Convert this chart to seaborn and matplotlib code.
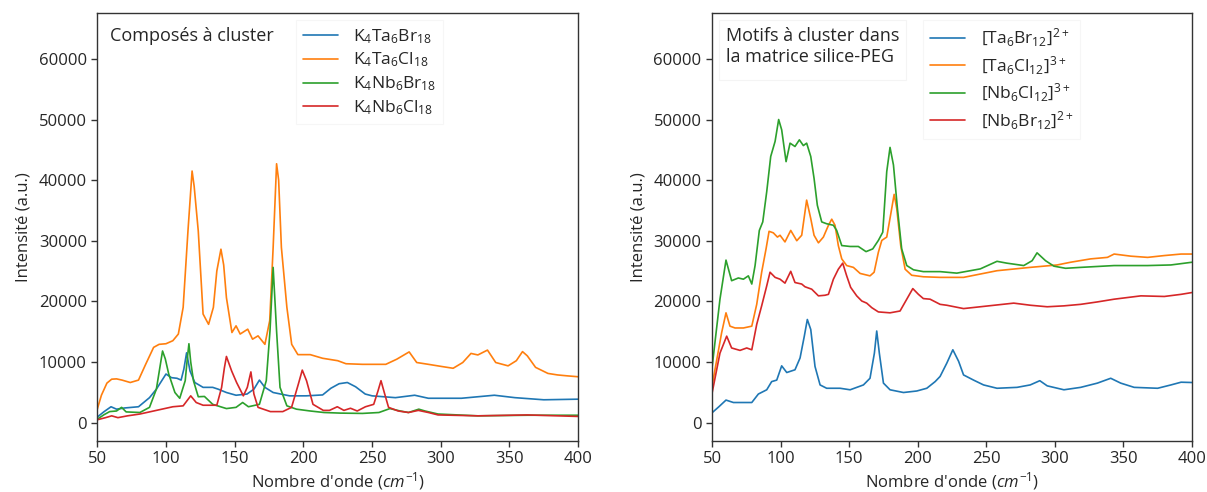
import numpy as np
import pandas as pd
import matplotlib
matplotlib.use("Agg")
import matplotlib.pyplot as plt
import seaborn as sns

# ---------------- data: left panel (Composés à cluster) ----------------
left_labels = ["K$_4$Ta$_6$Br$_{18}$", "K$_4$Ta$_6$Cl$_{18}$",
               "K$_4$Nb$_6$Br$_{18}$", "K$_4$Nb$_6$Cl$_{18}$"]

x_k4ta6br18 = [50, 55, 60, 64, 70, 80, 88, 93, 100, 104, 108, 111, 113, 115, 117.5, 121, 127, 134, 138, 144,
               151, 159, 164, 168, 172, 178, 190, 202, 214, 220, 226, 232, 238, 245, 250, 267, 281, 291, 315, 339,
               354, 375, 400]
y_k4ta6br18 = [900, 1800, 2600, 2200, 2400, 2600, 4100, 5500, 8000, 7400, 7300, 7000, 8800, 11500, 8500, 6600, 5800, 5800, 5500, 4950,
               4500, 4700, 5500, 7000, 5800, 4950, 4400, 4400, 4550, 5650, 6400, 6600, 5900, 4700, 4400, 4100, 4500, 4000, 4000, 4500,
               4100, 3750, 3850]

x_k4ta6cl18 = [50, 53, 57, 60.5, 64, 68, 74, 80, 85, 91, 95, 100, 105, 109, 112.5, 116, 119, 120.5, 123.5, 127,
               131, 134.5, 137, 140, 142, 144, 148, 151, 154, 159.5, 163, 167, 172, 175.5, 178, 180.5, 182, 184, 188, 191.5,
               196, 205, 214, 225, 231, 243, 260, 268, 277, 282.5, 291, 300.5, 309, 316, 322, 327, 334, 340, 349, 355,
               359.5, 363, 369, 378, 385, 392, 400]
y_k4ta6cl18 = [2200, 4500, 6500, 7150, 7200, 7000, 6600, 7000, 9500, 12400, 12900, 13000, 13500, 14600, 19000, 31600, 41500, 39000, 31600, 17900,
               16200, 19000, 25000, 28600, 26000, 20600, 14850, 15950, 14600, 15400, 13750, 14300, 12900, 16800, 28900, 42700, 40000, 28900, 19000, 12900,
               11200, 11200, 10600, 10200, 9700, 9600, 9600, 10450, 11650, 9900, 9600, 9250, 8950, 9900, 11400, 11150, 11950, 9900, 9350, 10200,
               11700, 11000, 9100, 8100, 7850, 7700, 7550]

x_k4nb6br18 = [50, 55, 59, 64, 67.7, 71, 81, 88, 93, 95.5, 97.5, 99.5, 102, 106.5, 110, 114, 115.5, 116.7, 118, 120,
               123.5, 128, 134, 144, 151, 155.8, 160, 168, 173, 175.7, 178, 180.5, 183, 188, 195, 205, 215, 227, 243, 255,
               263, 270.5, 276.5, 284, 288.5, 298, 327, 363, 400]
y_k4nb6br18 = [550, 1300, 1800, 1900, 2500, 1750, 1650, 2500, 5500, 9000, 11800, 10500, 8000, 4950, 4000, 6900, 10500, 13000, 10000, 6900,
               4250, 4300, 3000, 2300, 2500, 3300, 2600, 3000, 6900, 15100, 25600, 15100, 5800, 2750, 2200, 1900, 1650, 1550, 1500, 1650,
               2300, 1900, 1650, 2200, 1900, 1400, 1100, 1200, 1200]

x_k4nb6cl18 = [50, 56, 60.5, 65, 72, 81, 93, 105, 112.5, 118, 122, 127, 137, 140.5, 142.5, 144, 147.8, 151.4, 156.3, 159.2,
               161.8, 164, 167, 176, 185, 191.4, 196.3, 199.2, 202.3, 207, 214.5, 219, 224.7, 229.5, 234.3, 239.2, 245.2, 251.2, 254.3, 256.5,
               259.2, 262, 269, 276.5, 283.7, 291, 298, 327, 363, 400]
y_k4nb6cl18 = [450, 800, 1100, 800, 1100, 1400, 2000, 2600, 2750, 4400, 3300, 2850, 2850, 5800, 9000, 10900, 8500, 6600, 4400, 5800,
               8350, 4700, 2500, 1800, 1800, 2500, 6300, 8650, 6900, 3000, 2000, 2000, 2600, 2000, 2350, 1900, 2600, 3000, 5200, 6900,
               4700, 2500, 1900, 1650, 2000, 1650, 1250, 1100, 1250, 1000]

# ---------------- data: right panel (Motifs à cluster dans la matrice) ----------------
right_labels = ["[Ta$_6$Br$_{12}$]$^{2+}$", "[Ta$_6$Cl$_{12}$]$^{3+}$",
                "[Nb$_6$Cl$_{12}$]$^{3+}$", "[Nb$_6$Br$_{12}$]$^{2+}$"]

x_ta6br12 = [50, 55, 60.2, 65.6, 79, 83.8, 89.9, 93.5, 97.2, 100.8, 104.5, 110.5, 114.2, 117.3, 119.5, 122, 125.1, 128.8, 133.6, 143.4,
             150.7, 160.4, 165.2, 168.4, 170.1, 172, 175, 179.8, 189.6, 199.3, 206.6, 212.7, 216.3, 221.2, 225.6, 229.8, 233.4, 240.7, 248, 257.8,
             272.4, 282, 289, 294.4, 306.6, 318.8, 331, 340.7, 348, 357.8, 374.9, 384.6, 392, 400]
y_ta6br12 = [1600, 2600, 3700, 3300, 3300, 4700, 5400, 6750, 7000, 9350, 8250, 8700, 10650, 14250, 17000, 15350, 9250, 6200, 5650, 5650,
             5400, 6200, 7300, 11450, 15100, 11450, 6500, 5400, 4950, 5200, 5650, 6750, 7600, 9800, 12000, 10100, 7850, 7000, 6200, 5650,
             5800, 6200, 6900, 6050, 5400, 5800, 6500, 7300, 6500, 5800, 5650, 6200, 6650, 6600]

x_ta6cl12 = [50, 57, 60.2, 63.1, 66.8, 72.9, 79, 82.6, 86.2, 89.4, 91.6, 94.7, 97.7, 99.6, 103.2, 107.4, 111.8, 115.4, 119, 122,
             124.4, 127.6, 131.2, 134.9, 137.3, 139.7, 142.1, 144.6, 148.2, 153.1, 158, 165.2, 168.2, 171.3, 173.8, 177.4, 180.6, 182.8, 184.7, 187.6,
             190.8, 195.6, 204.1, 216.3, 233.4, 257.8, 282, 301.7, 311.5, 326, 338.3, 343.2, 355.4, 367.6, 379.8, 392, 400]
y_ta6cl12 = [6000, 14800, 18100, 15900, 15600, 15600, 15900, 19500, 24800, 28650, 31550, 31300, 30600, 30900, 29800, 31700, 30000, 30900, 36700, 33650,
             30900, 29650, 30600, 32550, 33550, 32550, 29200, 27000, 25900, 25600, 24600, 24200, 24800, 28100, 30050, 30600, 34750, 37650, 35300, 29200,
             25300, 24300, 24050, 23950, 23950, 25050, 25600, 26000, 26450, 27000, 27250, 27800, 27450, 27250, 27550, 27800, 27800]

x_nb6cl12 = [50, 55.8, 60.2, 64.3, 69.2, 72.9, 76.5, 79, 81.4, 84.5, 87, 89.9, 92.8, 96, 98.6, 100.8, 104, 106.9, 110.5, 113.7,
             116.6, 119, 122, 124.4, 126.8, 130, 133.6, 138.5, 140.9, 144.6, 150.7, 156.7, 162.3, 167.2, 171.3, 174.5, 177.4, 179.8, 182.3, 185.2,
             188.3, 192, 196.9, 204.1, 216.3, 228.5, 245.6, 257.8, 264.9, 277.3, 283.4, 287, 293.2, 299.3, 307.8, 318.8, 343.2, 367.6, 384.6, 400]
y_nb6cl12 = [9000, 20350, 26800, 23400, 23850, 23650, 24200, 22850, 25900, 31700, 33100, 38100, 43900, 46400, 50000, 48300, 43050, 46100, 45550, 46650,
             45700, 46100, 43900, 40300, 35850, 33100, 32800, 32550, 31700, 29200, 29050, 29050, 28200, 28650, 30050, 31400, 41400, 45400, 42500, 35300,
             28650, 25900, 25200, 24900, 24900, 24650, 25350, 26600, 26300, 25900, 26700, 28000, 26700, 25800, 25450, 25600, 25900, 25900, 26000, 26450]

x_nb6br12 = [50, 55.8, 60.7, 64.3, 70.4, 75.3, 79, 82.6, 86.2, 89.9, 92.3, 96, 99.6, 103.2, 107.4, 110.5, 115.4, 117.8, 122.7, 127.6,
             132.4, 134.9, 138.5, 142.1, 145.3, 148.2, 151.1, 155.5, 159.2, 162.8, 166.5, 171.3, 179.8, 187.1, 192, 196.4, 200.5, 204.1, 209, 216.3,
             221.2, 233.4, 245.6, 270, 282.2, 294.4, 306.6, 318.8, 331, 343.2, 362.7, 379.8, 392, 400]
y_nb6br12 = [4800, 11450, 14250, 12300, 11900, 12300, 12000, 16200, 19250, 22550, 24800, 23950, 23650, 23000, 24950, 23100, 22850, 22400, 22000, 20900,
             21000, 21150, 23650, 25300, 26300, 24200, 22300, 20900, 20050, 19700, 18950, 18250, 18100, 18400, 20350, 22100, 21150, 20450, 20350, 19500,
             19350, 18800, 19100, 19700, 19350, 19100, 19250, 19500, 19900, 20350, 20900, 20800, 21150, 21450]

left_title = "Composés à cluster"
right_title = "Motifs à cluster dans\nla matrice silice-PEG"
x_label = "Nombre d'onde ($\\mathit{cm}^{-1}$)"
y_label = "Intensité (a.u.)"
x_ticks = [50, 100, 150, 200, 250, 300, 350, 400]
y_ticks = [0, 10000, 20000, 30000, 40000, 50000, 60000]

# ---------------- style ----------------
sns.set_style("ticks")
FONT = "Open Sans"
plt.rcParams["font.family"] = [FONT, "DejaVu Sans"]
plt.rcParams["mathtext.fontset"] = "custom"
plt.rcParams["mathtext.rm"] = FONT
plt.rcParams["mathtext.it"] = FONT + ":italic"
plt.rcParams["mathtext.default"] = "regular"
plt.rcParams["axes.edgecolor"] = "#333333"
plt.rcParams["axes.linewidth"] = 1.0
plt.rcParams["xtick.color"] = "#333333"
plt.rcParams["ytick.color"] = "#333333"
plt.rcParams["xtick.labelcolor"] = "#262626"
plt.rcParams["ytick.labelcolor"] = "#262626"

colors = ["#1f77b4", "#ff7f0e", "#2ca02c", "#d62728"]
FS = 12
FS_LEG = 12.5
FS_TITLE = 13

fig = plt.figure(figsize=(12.07, 4.92), dpi=100)
ax_l = fig.add_axes([0.0806, 0.1043, 0.3984, 0.8683])
ax_r = fig.add_axes([0.5899, 0.1043, 0.3977, 0.8683])


def long_df(xs, ys, labels):
    frames = []
    for x, y, lab in zip(xs, ys, labels):
        frames.append(pd.DataFrame({"x": x, "y": y, "serie": lab}))
    return pd.concat(frames, ignore_index=True)


def draw(ax, xs, ys, labels, title, leg_x, title_x, title_align, title_frame_color):
    df = long_df(xs, ys, labels)
    sns.lineplot(data=df, x="x", y="y", hue="serie", hue_order=labels,
                 palette=dict(zip(labels, colors)), estimator=None,
                 linewidth=1.2, legend=False, ax=ax)
    ax.set_xlim(50, 400)
    ax.set_ylim(-3000, 67500)
    ax.set_xticks(x_ticks)
    ax.set_yticks(y_ticks)
    ax.tick_params(labelsize=FS, length=4.5, width=1.0, direction="out", pad=3)
    ax.set_xlabel(x_label, fontsize=FS, color="#262626", labelpad=2)
    ax.set_ylabel(y_label, fontsize=FS, color="#262626", labelpad=5)
    for s in ax.spines.values():
        s.set_visible(True)

    tleg = ax.legend(handles=[], title=title, loc="upper left",
                     bbox_to_anchor=(title_x, 0.985), borderaxespad=0,
                     frameon=True, fancybox=False, title_fontsize=FS_TITLE,
                     borderpad=0.5)
    tleg.get_frame().set_edgecolor(title_frame_color)
    tleg.get_frame().set_linewidth(0.8)
    tleg._legend_box.align = title_align
    ax.add_artist(tleg)

    handles = ax.get_lines()[:4]
    leg = ax.legend(handles, labels, loc="upper left",
                    bbox_to_anchor=(leg_x, 0.985), borderaxespad=0,
                    frameon=True, fancybox=False, fontsize=FS_LEG,
                    handlelength=2.0, handletextpad=0.9, labelspacing=0.3)
    leg.get_frame().set_edgecolor("#f4f4f4")
    leg.get_frame().set_linewidth(0.8)


draw(ax_l, [x_k4ta6br18, x_k4ta6cl18, x_k4nb6br18, x_k4nb6cl18],
     [y_k4ta6br18, y_k4ta6cl18, y_k4nb6br18, y_k4nb6cl18],
     left_labels, left_title, leg_x=0.413, title_x=0.012, title_align="left",
     title_frame_color="white")
draw(ax_r, [x_ta6br12, x_ta6cl12, x_nb6cl12, x_nb6br12],
     [y_ta6br12, y_ta6cl12, y_nb6cl12, y_nb6br12],
     right_labels, right_title, leg_x=0.44, title_x=0.015, title_align="center",
     title_frame_color="#f2f2f2")

fig.savefig("out.png", dpi=100)
